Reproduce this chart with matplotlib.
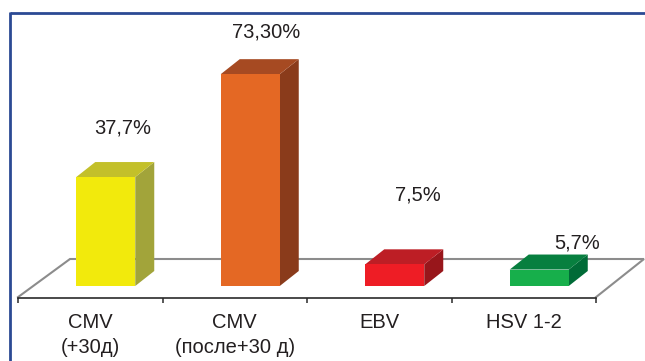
import matplotlib
matplotlib.use("Agg")
import matplotlib.pyplot as plt
from matplotlib.patches import Polygon
from matplotlib.lines import Line2D

# ---- data ----
categories = ["CMV\n(+30д)", "CMV\n(после+30 д)", "EBV", "HSV 1-2"]
values = [37.7, 73.3, 7.5, 5.7]
value_labels = ["37,7%", "73,30%", "7,5%", "5,7%"]

# ---- styles ----
front_colors = ["#F2EA0C", "#E46824", "#EE1D25", "#17AF4B"]
side_colors = ["#A2A43A", "#8A3B1B", "#98161B", "#006B37"]
top_colors = ["#C3C02A", "#A64A22", "#BD1E25", "#077F3F"]
label_offsets_px = [(17, 49), (16, 42), (23, 69), (38, 27)]  # (dx, dy) from front-top centre

W, H, DPI = 645, 361, 100
fig = plt.figure(figsize=(W / DPI, H / DPI), dpi=DPI)
fig.patch.set_facecolor("white")

ax_left_px, ax_right_px = 18, 596
ax_bottom_px, ax_top_px = 298, 9
ax = fig.add_axes([ax_left_px / W, 1 - ax_bottom_px / H,
                   (ax_right_px - ax_left_px) / W, (ax_bottom_px - ax_top_px) / H])
ax.set_xlim(-0.5, len(categories) - 0.5)
ax.set_ylim(0, 100)
ax.set_facecolor("none")

sx = (ax_right_px - ax_left_px) / len(categories)  # px per x unit
sy = (ax_bottom_px - ax_top_px) / 100.0            # px per y unit

# floor outline
fl_dx_left, fl_dx_right, fl_dy = 52 / sx, 48 / sx, 39 / sy
x_l, x_r = -0.5, len(categories) - 0.5
floor = Line2D([x_l, x_l + fl_dx_left, x_r + fl_dx_right, x_r],
               [0.3, fl_dy, fl_dy, 0.3], color="#8C8C8C", lw=1.5,
               clip_on=False, zorder=1, solid_joinstyle="miter")
ax.add_line(floor)

# bars
front_shift_x, front_shift_y = 15.5 / sx, 12 / sy
bar_w = 59 / sx
dx, dy = 19 / sx, 15 / sy
for i, v in enumerate(values):
    x0 = i + front_shift_x - bar_w / 2
    x1 = x0 + bar_w
    y0 = front_shift_y
    y1 = y0 + v
    side = Polygon([(x1, y0), (x1 + dx, y0 + dy), (x1 + dx, y1 + dy), (x1, y1)],
                   closed=True, facecolor=side_colors[i], edgecolor="none",
                   clip_on=False, zorder=3)
    top = Polygon([(x0, y1), (x1, y1), (x1 + dx, y1 + dy), (x0 + dx, y1 + dy)],
                  closed=True, facecolor=top_colors[i], edgecolor="none",
                  clip_on=False, zorder=3)
    front = Polygon([(x0, y0), (x1, y0), (x1, y1), (x0, y1)],
                    closed=True, facecolor=front_colors[i], edgecolor="none",
                    clip_on=False, zorder=4)
    for p in (side, top, front):
        ax.add_patch(p)
    ox, oy = label_offsets_px[i]
    ax.annotate(value_labels[i], xy=((x0 + x1) / 2, y1), xytext=(ox, oy),
                textcoords="offset pixels", ha="center", va="center",
                fontsize=14.5, family="Liberation Sans", color="#231F20",
                annotation_clip=False, zorder=5)

# axis
for s in ("left", "right", "top"):
    ax.spines[s].set_visible(False)
ax.spines["bottom"].set_color("#2A2A2A")
ax.spines["bottom"].set_linewidth(1.2)
ax.spines["bottom"].set_zorder(2)
ax.set_yticks([])
ax.set_xticks(range(len(categories)))
ax.set_xticklabels(categories, fontsize=14.5, family="Liberation Sans",
                   color="#231F20", linespacing=1.4)
ax.tick_params(axis="x", which="major", length=0, pad=11)
ax.set_xticks([k - 0.5 for k in range(len(categories) + 1)], minor=True)
ax.tick_params(axis="x", which="minor", length=3.6, width=1.1,
               color="#2A2A2A", direction="out")

# outer dark-blue frame (left and top)
frame_col = "#2B4A94"
fx = 10 / W
fy = 1 - 12.5 / H
fig.add_artist(Line2D([fx, 1.0], [fy, fy], transform=fig.transFigure,
                      color=frame_col, lw=2.0, solid_capstyle="butt"))
fig.add_artist(Line2D([fx, fx], [0, fy + 1.0 / H], transform=fig.transFigure,
                      color=frame_col, lw=2.0, solid_capstyle="butt"))

fig.savefig("out.png", dpi=DPI, facecolor="white")
